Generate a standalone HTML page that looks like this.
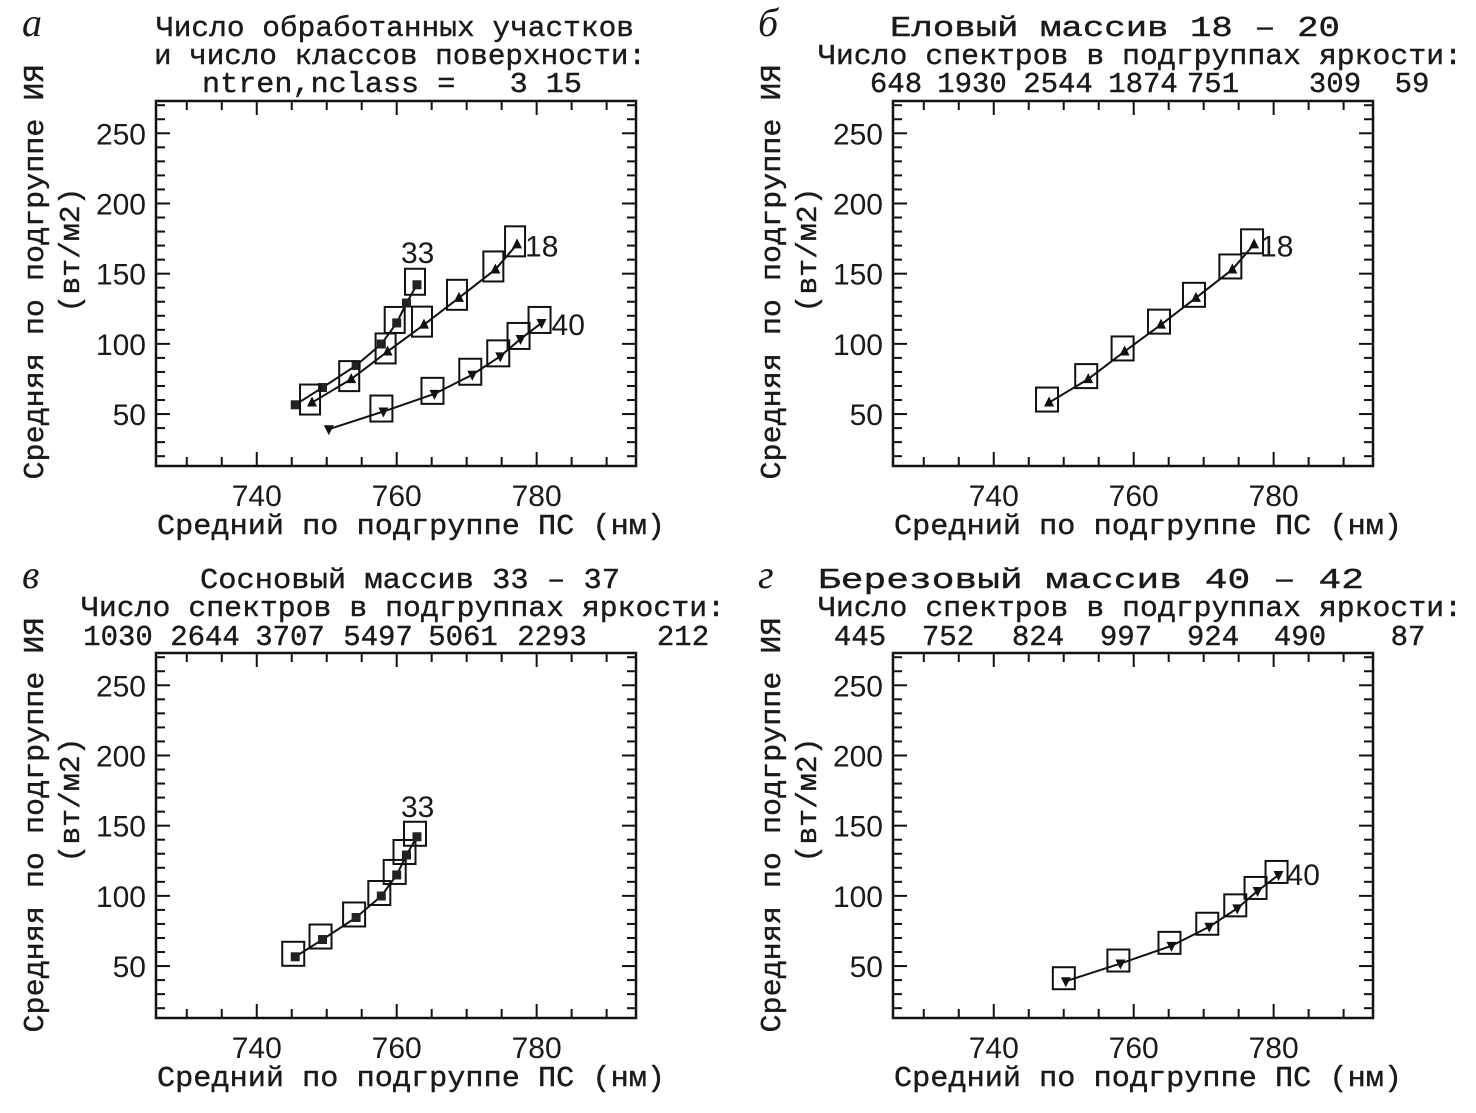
<!DOCTYPE html>
<html><head><meta charset="utf-8"><style>
html,body{margin:0;padding:0;background:#fff;}
svg text{fill:#1a1a1a;white-space:pre;}
.mono{font-family:"Liberation Mono","DejaVu Sans Mono",monospace;font-size:29px;stroke:#1a1a1a;stroke-width:0.4px;}
.tick{font-family:"Liberation Sans",sans-serif;font-size:30px;}
.let{font-family:"Liberation Serif",serif;font-style:italic;font-size:40px;}
</style></head><body>
<svg id="fig" width="1476" height="1108" viewBox="0 0 1476 1108" xmlns="http://www.w3.org/2000/svg"></svg>
<script>
// Data
const x33 = [745.5, 749.4, 754.2, 757.8, 760.0, 761.4, 762.9];
const y33 = [56.6, 68.9, 84.6, 99.9, 114.9, 129.1, 142.1];
const x18 = [747.9, 753.5, 758.7, 763.9, 768.9, 774.1, 777.2];
const y18 = [58.2, 74.9, 94.6, 113.7, 132.8, 153.0, 170.9];
const x40 = [750.3, 758.1, 765.4, 770.8, 774.8, 777.7, 780.7];
const y40 = [39.2, 51.8, 64.4, 78.0, 91.1, 103.5, 114.9];
const xTicks = [740, 760, 780];
const yTicks = [50, 100, 150, 200, 250];
const counts18 = ["648","1930","2544","1874","751","309","59"];
const counts33 = ["1030","2644","3707","5497","5061","2293","212"];
const counts40 = ["445","752","824","997","924","490","87"];

const NS="http://www.w3.org/2000/svg";
const svg=document.getElementById('fig');
function mk(tag,attrs,parent,text){const e=document.createElementNS(NS,tag);for(const k in attrs)e.setAttribute(k,attrs[k]);if(text!==undefined)e.textContent=text;(parent||svg).appendChild(e);return e;}

const XMIN=725.6,XMAX=794.2,YMIN=13,YMAX=273;
function panel(ox,oy,name){
  const L=156+ox,R=636+ox,T=101+oy,B=466+oy;
  const g=mk('g',{});
  
  
  const sx=v=>L+(v-XMIN)/(XMAX-XMIN)*(R-L);
  const sy=v=>B-(v-YMIN)/(YMAX-YMIN)*(B-T);
  const fr=mk('rect',{x:L,y:T,width:R-L,height:B-T,fill:'none',stroke:'#111','stroke-width':2.5},g);
  
  
  for(let v=730;v<=790;v+=5){const x=sx(v);const len=(v%20===0)?14:9;
    mk('line',{x1:x,x2:x,y1:B,y2:B-len,stroke:'#111','stroke-width':2},g);
    mk('line',{x1:x,x2:x,y1:T,y2:T+len,stroke:'#111','stroke-width':2},g);}
  for(let v=20;v<=270;v+=10){const y=sy(v);const len=(v%50===0)?14:9;
    mk('line',{x1:L,x2:L+len,y1:y,y2:y,stroke:'#111','stroke-width':2},g);
    mk('line',{x1:R,x2:R-len,y1:y,y2:y,stroke:'#111','stroke-width':2},g);}
  xTicks.forEach(v=>{const t=mk('text',{x:sx(v),y:B+40,'text-anchor':'middle',class:'tick'},g,String(v));
    
    });
  yTicks.forEach(v=>{const t=mk('text',{x:L-10,y:sy(v)+11,'text-anchor':'end',class:'tick'},g,String(v));
    
    });
  const xt=mk('text',{x:L+255,y:B+68,'text-anchor':'middle',class:'mono',textLength:508,lengthAdjust:'spacingAndGlyphs'},g,'Средний по подгруппе ПС (нм)');
  
  
  const cy=(oy?825:272);
  const y1=mk('text',{x:0,y:0,'text-anchor':'middle',class:'mono',textLength:415,lengthAdjust:'spacingAndGlyphs',transform:`translate(${43+ox},${cy}) rotate(-90)`},g,'Средняя по подгруппе ИЯ');
  
  
  const y2=mk('text',{x:0,y:0,'text-anchor':'middle',class:'mono',textLength:125,lengthAdjust:'spacingAndGlyphs',transform:`translate(${79+ox},${(oy?800:250)}) rotate(-90)`},g,'(вт/м2)');
  
  
  return {g,sx,sy};
}
function series(p,xs,ys,marker,boxIdx,bw,bh,name){
  const g=mk('g',{},p.g);
  
  
  const pts=xs.map((v,i)=>p.sx(v)+','+p.sy(ys[i])).join(' ');
  mk('polyline',{points:pts,fill:'none',stroke:'#111','stroke-width':2},g);
  xs.forEach((v,i)=>{const x=p.sx(v),y=p.sy(ys[i]);let m;
    if(marker==='sq') m=mk('rect',{x:x-4.5,y:y-4.5,width:9,height:9,fill:'#222'},g);
    else if(marker==='up') m=mk('polygon',{points:`${x},${y-6} ${x-5},${y+4} ${x+5},${y+4}`,fill:'#111'},g);
    else m=mk('polygon',{points:`${x},${y+6} ${x-5},${y-4} ${x+5},${y-4}`,fill:'#111'},g);
    
    
    if(boxIdx.includes(i)){const b=mk('rect',{x:x-bw/2-2,y:y-bh/2-3,width:bw,height:bh,fill:'none',stroke:'#111','stroke-width':2},g);
      
      }
  });
}
function label(p,x,y,t,dx,dy){const e=mk('text',{x:p.sx(x)+dx,y:p.sy(y)+dy,class:'tick'},p.g,t);
  
  }
function titleLines(lines){lines.forEach(l=>{const e=mk('text',{x:l[0],y:l[1],'text-anchor':'middle',class:'mono',textLength:l[3],lengthAdjust:'spacingAndGlyphs'},svg,l[2]);
  
  });}
function countsRow(arr,xsPos,y){arr.forEach((c,i)=>{const e=mk('text',{x:xsPos[i],y:y,'text-anchor':'middle',class:'mono'},svg,c);
  
  });}
function letter(x,y,t){const e=mk('text',{x:x,y:y,class:'let'},svg,t);
  
  }

// Panel a
const pa=panel(0,0,'panel-a');
series(pa,x33,y33,'sq',[4,6],20,26,'series-33');
series(pa,x18,y18,'up',[0,1,2,3,4,5,6],20,30,'series-18');
series(pa,x40,y40,'down',[1,2,3,4,5,6],22,26,'series-40');
label(pa,x33[6],y33[6],'33',-16,-22);
label(pa,x18[6],y18[6],'18',8,12);
label(pa,x40[6],y40[6],'40',10,12);
titleLines([[395,36,'Число обработанных участков',478],[400,64,'и число классов поверхности:',492],[392,92,'ntren,nclass =   3 15',380]]);
letter(22,36,'а');
// Panel b
const pb=panel(737,0,'panel-b');
series(pb,x18,y18,'up',[0,1,2,3,4,5,6],22,24,'series-18');
label(pb,x18[6],y18[6],'18',6,12);
titleLines([[1115,36,'Еловый массив 18 – 20',450],[1140,64,'Число спектров в подгруппах яркости:',644]]);
countsRow(counts18,[896,972,1058,1143,1213,1335,1412],92);
letter(758,36,'б');
// Panel c
const pc=panel(0,552,'panel-c');
series(pc,x33,y33,'sq',[0,1,2,3,4,5,6],22,24,'series-33');
label(pc,x33[6],y33[6],'33',-16,-20);
titleLines([[410,588,'Сосновый массив 33 – 37',420],[403,616,'Число спектров в подгруппах яркости:',644]]);
countsRow(counts33,[118,205,290,378,463,552,683],645);
letter(22,588,'в');
// Panel d
const pd=panel(737,552,'panel-d');
series(pd,x40,y40,'down',[0,1,2,3,4,5,6],22,22,'series-40');
label(pd,x40[6],y40[6],'40',8,10);
titleLines([[1091,588,'Березовый массив 40 – 42',546],[1140,616,'Число спектров в подгруппах яркости:',644]]);
countsRow(counts40,[860,948,1038,1126,1213,1300,1408],645);
letter(758,588,'г');
</script>
</body></html>
